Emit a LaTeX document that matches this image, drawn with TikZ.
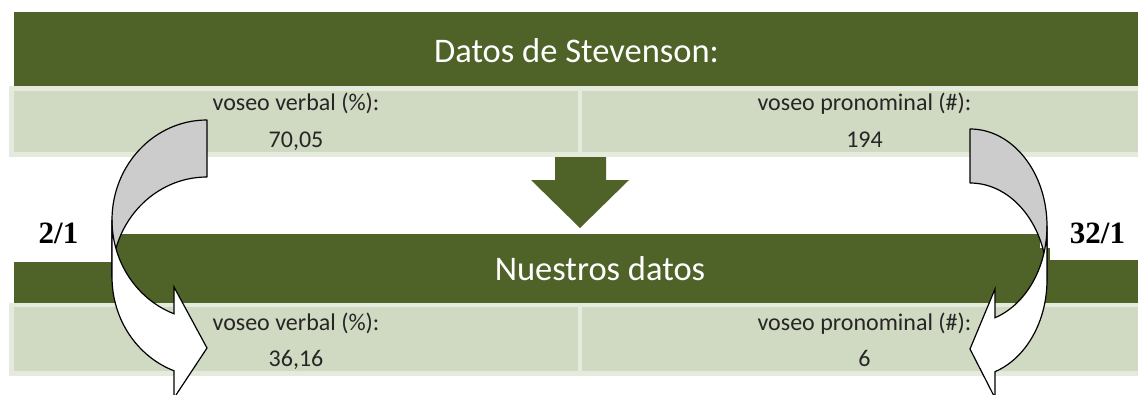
\documentclass[tikz,border=0pt]{standalone}
\usepackage{fontspec}
\setmainfont{Carlito}
\newfontfamily\ratiofont{Liberation Serif}
\definecolor{hdr}{HTML}{4F6228}
\definecolor{cellin}{HTML}{D0D9C1}
\definecolor{cellout}{HTML}{E4EADC}
\definecolor{backgray}{HTML}{CCCCCC}
\tikzset{
  headtext/.style={text=white, inner sep=0pt, font=\fontsize{34.5}{40}\selectfont},
  bodytext/.style={text=black!85, inner sep=0pt, font=\fontsize{24}{28}\selectfont},
  ratiotext/.style={text=black, inner sep=0pt, font=\ratiofont\bfseries\fontsize{31}{36}\selectfont},
  backface/.style={fill=backgray, draw=black, line width=1.2pt, line join=round},
  frontface/.style={fill=white, draw=black, line width=1.2pt, line join=miter},
}
\begin{document}
\begin{tikzpicture}[x=1pt,y=-1pt]
\useasboundingbox (0,0) rectangle (1138,394);
\clip (0,0) rectangle (1138,394);
\fill[white] (0,0) rectangle (1138,394);
% top header
\fill[hdr] (14,12) rectangle (1150,86);
\node[headtext, anchor=base] (h1) at (576.5,62) {Datos de Stevenson:};
% top cells
\fill[cellout] (9,86) rectangle (580,157);
\fill[cellin] (14,91) rectangle (578,152);
\fill[cellout] (580,86) rectangle (1150,157);
\fill[cellin] (582,91) rectangle (1150,152);
\node[bodytext, anchor=base] (a1) at (296,110) {voseo verbal (\%):};
\node[bodytext, anchor=base] (a2) at (296,147) {70,05};
\node[bodytext, anchor=base] (b1) at (864.5,110) {voseo pronominal (\#):};
\node[bodytext, anchor=base] (b2) at (864.5,147) {194};
% down arrow
\fill[hdr] (555,157) -- (606,157) -- (606,180) -- (629,180) -- (580,228) -- (531,180) -- (555,180) -- cycle;
% bottom header
\fill[hdr] (14,234) rectangle (1150,303);
\node[headtext, anchor=base] (h2) at (600,280) {Nuestros datos};
% bottom cells
\fill[cellout] (9,303) rectangle (580,376);
\fill[cellin] (14,307) rectangle (578,371);
\fill[cellout] (580,303) rectangle (1150,376);
\fill[cellin] (582,307) rectangle (1150,371);
\node[bodytext, anchor=base] (c1) at (296,330) {voseo verbal (\%):};
\node[bodytext, anchor=base] (c2) at (296,366) {36,16};
\node[bodytext, anchor=base] (d1) at (864.5,330) {voseo pronominal (\#):};
\node[bodytext, anchor=base] (d2) at (864.5,366) {6};
% ratio labels with white boxes
\fill[white] (0,190) rectangle (112,262);
\fill[white] (1050,190) rectangle (1138,260);
\fill[white] (1040,190) rectangle (1050,248);
\node[ratiotext, anchor=base] (r1) at (58.5,243) {2/1};
\node[ratiotext, anchor=base] (r2) at (1097.5,243) {32/1};
% left curved arrow
\filldraw[backface] (112,220) arc[start angle=180, end angle=270, x radius=95, y radius=100]
  -- (207,177) arc[start angle=270, end angle=180, x radius=95, y radius=100] -- cycle;
\filldraw[frontface] (112,220) arc[start angle=180, end angle=110.33, x radius=95, y radius=100]
  -- (174,287) -- (207,348) -- (174,398) -- (174,370.8)
  arc[start angle=110.33, end angle=180, x radius=95, y radius=100] -- cycle;
% right curved arrow
\filldraw[backface] (1047,226) arc[start angle=0, end angle=-90, x radius=77, y radius=97]
  -- (970,183) arc[start angle=-90, end angle=0, x radius=77, y radius=97] -- cycle;
\filldraw[frontface] (1047,226) arc[start angle=0, end angle=71.05, x radius=77, y radius=97]
  -- (995,289) -- (970,349) -- (995,398) -- (995,371.7)
  arc[start angle=71.05, end angle=0, x radius=77, y radius=97] -- cycle;
\end{tikzpicture}
\end{document}
